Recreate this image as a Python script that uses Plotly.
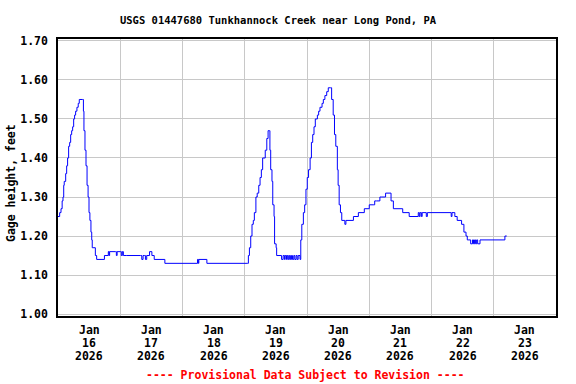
import pandas as pd
import plotly.graph_objects as go

# Hours after 2026-01-16 00:00 and gage height (feet)
hours = [0.0, 0.4, 0.64, 1.16, 1.6, 1.93, 2.2, 2.4, 2.96, 3.34, 3.7, 4.1, 4.5, 4.88, 5.27, 5.65, 6.04, 6.4, 6.8,
         7.3, 7.8, 8.2, 9.4, 9.8, 10.0, 10.4, 10.8, 11.2, 11.6, 11.95, 12.3, 12.7, 13.0, 13.2, 14.4, 14.9,
         17.9, 19.4, 19.7, 19.9, 22.2, 22.5, 22.8, 24.0, 24.4, 24.8, 25.2, 26.3, 31.8, 32.3, 32.8, 33.3, 33.7, 34.2,
         35.3, 36.2, 37.1, 41.2, 53.8, 54.1, 54.3, 57.4, 73.0, 73.4, 73.8, 74.3, 74.8, 75.3, 75.7, 76.3, 76.8,
         77.4, 77.9, 78.4, 78.9, 79.9, 80.5, 81.0, 81.5, 81.7, 82.0, 82.5, 82.8, 83.3, 83.5, 84.1, 84.3, 86.2,
         86.8, 87.3, 87.6, 88.1, 88.4, 88.8, 89.2, 89.6, 90.0, 90.4, 90.9, 91.3, 91.8, 92.2, 92.6, 93.3, 93.6,
         94.0, 94.6, 95.1, 95.6, 96.1, 96.6, 97.2, 97.7, 98.2, 98.7, 99.2, 100.0, 100.5, 101.0, 101.8, 102.3,
         102.9, 103.6, 104.2, 105.1, 105.5, 106.1, 106.6, 107.1, 107.7, 108.0, 108.4, 108.9, 109.4, 110.6, 111.0,
         113.9, 115.8, 118.1, 120.0, 121.5, 122.1, 122.8, 124.1, 124.6, 126.3, 128.4, 129.3, 132.9, 135.4, 138.9,
         139.3, 139.6, 140.1, 140.4, 142.0, 142.4, 151.6, 151.9, 152.3, 153.0, 153.9, 155.6, 156.5, 157.3,
         157.8, 158.4, 159.1, 159.8, 160.2, 160.6, 161.0, 161.4, 161.8, 162.7, 172.3, 173.0]
gage = [1.25, 1.25, 1.26, 1.27, 1.29, 1.30, 1.33, 1.34, 1.36, 1.38, 1.40, 1.43, 1.44, 1.46, 1.47, 1.48, 1.50, 1.51, 1.52,
        1.53, 1.54, 1.55, 1.55, 1.52, 1.47, 1.42, 1.38, 1.33, 1.30, 1.26, 1.24, 1.21, 1.19, 1.17, 1.15, 1.14,
        1.15, 1.16, 1.15, 1.16, 1.16, 1.15, 1.16, 1.16, 1.15, 1.16, 1.15, 1.15, 1.15, 1.14, 1.15, 1.15, 1.14, 1.15,
        1.16, 1.15, 1.14, 1.13, 1.14, 1.13, 1.14, 1.13, 1.13, 1.15, 1.17, 1.20, 1.23, 1.24, 1.26, 1.30, 1.31,
        1.33, 1.35, 1.37, 1.40, 1.42, 1.45, 1.47, 1.47, 1.42, 1.37, 1.34, 1.28, 1.25, 1.18, 1.17, 1.15, 1.14,
        1.15, 1.14, 1.15, 1.14, 1.15, 1.14, 1.15, 1.14, 1.15, 1.14, 1.15, 1.14, 1.15, 1.14, 1.15, 1.14, 1.19,
        1.23, 1.26, 1.28, 1.32, 1.35, 1.37, 1.40, 1.44, 1.46, 1.48, 1.50, 1.51, 1.52, 1.53, 1.54, 1.55,
        1.56, 1.57, 1.58, 1.58, 1.55, 1.51, 1.46, 1.43, 1.37, 1.33, 1.28, 1.26, 1.24, 1.23, 1.24,
        1.25, 1.26, 1.27, 1.28, 1.28, 1.29, 1.29, 1.30, 1.30, 1.31, 1.29, 1.27, 1.26, 1.25, 1.26,
        1.25, 1.26, 1.25, 1.26, 1.25, 1.26, 1.25, 1.26, 1.26, 1.25, 1.24, 1.23, 1.21, 1.20,
        1.19, 1.19, 1.18, 1.19, 1.18, 1.19, 1.18, 1.19, 1.18, 1.19, 1.20, 1.20]

start = pd.Timestamp("2026-01-16 00:00")
times = [start + pd.Timedelta(hours=h) for h in hours]

day_labels = ["16", "17", "18", "19", "20", "21", "22", "23"]
month_label = "Jan"
year_label = "2026"
y_ticks = [1.0, 1.1, 1.2, 1.3, 1.4, 1.5, 1.6, 1.7]

FONT = "DejaVu Sans Mono"
TS = 11.5

fig = go.Figure()
fig.add_trace(go.Scatter(x=times, y=gage, mode="lines", line=dict(color="#0000ff", width=1, shape="hv"),
                         hoverinfo="x+y"))

fig.update_layout(
    width=576, height=384,
    margin=dict(l=58, r=20, t=39, b=68, autoexpand=False),
    paper_bgcolor="white", plot_bgcolor="white",
    showlegend=False,
    font=dict(family=FONT, size=TS, color="black"),
    title=dict(text="<b>USGS 01447680 Tunkhannock Creek near Long Pond, PA</b>",
               xref="paper", x=0.4418, xanchor="center", yref="container", y=1 - 20 / 384, yanchor="middle",
               font=dict(family=FONT, size=10.5, color="black")),
    xaxis=dict(type="date", range=["2026-01-16", "2026-01-24"], automargin=False,
               showticklabels=False, showgrid=True, dtick=86400000, tick0="2026-01-16",
               gridcolor="#c8c8c8", gridwidth=1, ticks="", zeroline=False,
               showline=True, linecolor="black", linewidth=1.5, mirror=True),
    yaxis=dict(range=[0.995, 1.705], tickmode="array", automargin=False,
               tickvals=y_ticks, ticktext=["<b>%.2f</b>" % v for v in y_ticks],
               showgrid=True, gridcolor="#c8c8c8", gridwidth=1, zeroline=False,
               showline=True, linecolor="black", linewidth=1.5, mirror=True,
               ticks="", ticklabelstandoff=6,
               tickfont=dict(family=FONT, size=TS, color="black")),
)

# x tick labels: three lines centred at noon of each day
plot_h = 384 - 39 - 68
for d in day_labels:
    xc = pd.Timestamp(f"2026-01-{d} 12:00")
    for txt, ypx in [(month_label, 330), (d, 343), (year_label, 356)]:
        fig.add_annotation(text=f"<b>{txt}</b>", x=xc, xref="x", y=(316 - ypx) / plot_h, yref="paper",
                           xanchor="center", yanchor="middle", showarrow=False,
                           font=dict(family=FONT, size=TS, color="black"))

fig.add_annotation(text="<b>Gage height, feet</b>", xref="paper", x=(11 - 58) / 498, xanchor="center",
                   yref="paper", y=(316 - 183) / plot_h, yanchor="middle", textangle=-90, showarrow=False,
                   font=dict(family=FONT, size=TS, color="black"))

fig.add_annotation(text="<b>---- Provisional Data Subject to Revision ----</b>",
                   xref="paper", x=(305.5 - 58) / 498, xanchor="center",
                   yref="paper", y=(316 - 375) / plot_h, yanchor="middle",
                   showarrow=False, font=dict(family=FONT, size=TS, color="#ff0000"))

fig.write_html("out.html", config={"displayModeBar": False},
               post_script="document.body.style.margin='0';document.body.style.overflow='hidden';")
